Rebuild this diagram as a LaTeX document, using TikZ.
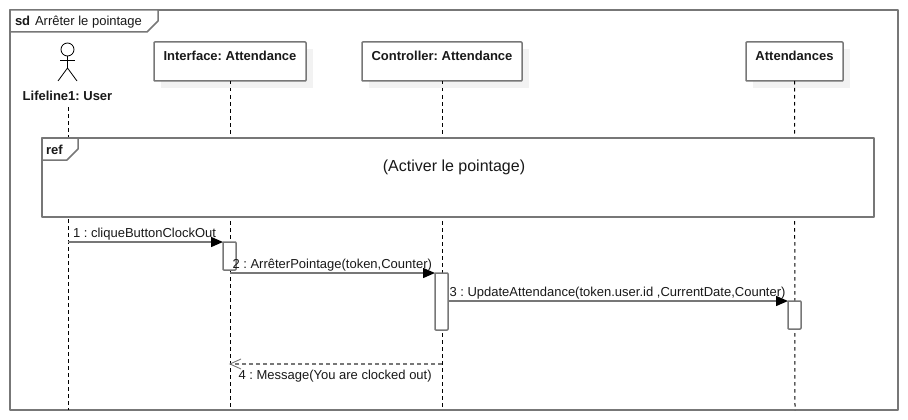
\documentclass[tikz,border=0pt]{standalone}
\usepackage{fontspec}
\setmainfont{Liberation Sans}
\usetikzlibrary{arrows.meta}
\definecolor{lineg}{HTML}{777777}
\definecolor{shade}{HTML}{F2F2F2}
\pgfdeclarearrow{
  name=OpenVee,
  parameters={\the\pgfarrowlength},
  setup code={
    \pgfarrowssettipend{0pt}
    \pgfarrowssetlineend{-0.5pt}
    \pgfarrowssetvisualbackend{-\pgfarrowlength}
    \pgfarrowssetbackend{-\pgfarrowlength}
    \pgfarrowshullpoint{-\pgfarrowlength}{5pt}
    \pgfarrowshullpoint{-\pgfarrowlength}{-5pt}
    \pgfarrowshullpoint{0pt}{0pt}
    \pgfarrowssavethe\pgfarrowlength
  },
  drawing code={
    \pgfsetdash{}{0pt}
    \pgfsetlinewidth{0.9pt}
    \pgfpathmoveto{\pgfqpoint{-\pgfarrowlength}{5pt}}
    \pgfpathlineto{\pgfqpoint{0pt}{0pt}}
    \pgfpathlineto{\pgfqpoint{-\pgfarrowlength}{-5pt}}
    \pgfusepathqstroke
  },
  defaults={length=11pt}
}
\tikzset{
  every node/.style={inner sep=0pt,outer sep=0pt,font=\fontsize{13}{15}\selectfont,text=black!90},
  frameline/.style={draw=lineg,line width=1.5pt,line join=round},
  objbox/.style={frameline,fill=white,rounded corners=0.8pt},
  shadowbox/.style={fill=shade},
  objtitle/.style={font=\fontsize{13}{15}\selectfont\bfseries,anchor=base},
  lifeline/.style={draw=black,line width=1pt,dash pattern=on 3.5pt off 3.5pt},
  actbar/.style={frameline,fill=white,rounded corners=0.8pt,rectangle,draw,minimum width=13pt},
  msg/.style={draw=lineg,line width=1.5pt,-{Triangle[length=12pt,width=10pt,fill=black,color=black]}},
  reply/.style={draw=lineg,line width=1.2pt,dash pattern=on 4pt off 3pt,-{OpenVee[length=11pt]}},
  msglabel/.style={anchor=base west},
  actorline/.style={draw=black,line width=0.8pt}
}
\frenchspacing
\begin{document}
\begin{tikzpicture}[x=1pt,y=-1pt]
\frenchspacing
\useasboundingbox (0,0) rectangle (908,420);
\fill[white] (0,0) rectangle (908,420);
% outer frame
\draw[frameline] (10,10) rectangle (898,410);
% shadows
\fill[shadowbox] (161,49) rectangle (313,88);
\fill[shadowbox] (369,49) rectangle (529,88);
\fill[shadowbox] (753,49) rectangle (850,88);
% lifeline ends
\coordinate (userTop) at (68,107);
\coordinate (userEnd) at (68,410);
\coordinate (ifaceEnd) at (230,410);
\coordinate (ctrlEnd) at (442,410);
\coordinate (attEnd) at (795,410);
% object boxes
\node[objbox,minimum width=152pt,minimum height=39pt,anchor=north west] (iface) at (154,42) {};
\node[objbox,minimum width=160pt,minimum height=39pt,anchor=north west] (ctrl) at (362,42) {};
\node[objbox,minimum width=97pt,minimum height=39pt,anchor=north west] (att) at (746,42) {};
\node[objtitle] (ifaceT) at (230,60) {Interface: Attendance};
\node[objtitle] (ctrlT) at (442,60) {Controller: Attendance};
\node[objtitle] (attT) at (794.5,60) {Attendances};
% lifelines
\draw[lifeline] (userTop) -- (userEnd);
\draw[lifeline] (iface.south) -- (ifaceEnd);
\draw[lifeline] (ctrl.south) -- (ctrlEnd);
\draw[lifeline] (att.south) -- (attEnd);
% actor
\node[circle,draw=black,line width=0.8pt,fill=white,minimum size=13pt] (head) at (67.5,49.5) {};
\coordinate (hip) at (67.5,68);
\coordinate (armL) at (60,60);
\coordinate (armR) at (75,60);
\coordinate (footL) at (58,81);
\coordinate (footR) at (77,81);
\draw[actorline] (head.south) -- (hip);
\draw[actorline] (armL) -- (armR);
\draw[actorline] (footL) -- (hip) -- (footR);
\node[objtitle] (userT) at (67.5,100) {Lifeline1: User};
% sd tab
\draw[frameline,fill=white] (10,10) -- (158,10) -- (158,21) -- (147,32) -- (10,32) -- cycle;
\node[font=\fontsize{13}{15}\selectfont\bfseries,anchor=base west] (sdK) at (15,26) {sd};
\node[anchor=base west] (sdT) at (35,26) {Arrêter le pointage};
% ref frame
\draw[frameline,fill=white] (42,138) rectangle (874,217);
\draw[frameline,fill=white] (42,138) -- (78,138) -- (78,149) -- (67,160) -- (42,160) -- cycle;
\node[font=\fontsize{13}{15}\selectfont\bfseries,anchor=base west] (refK) at (46,154) {ref};
\node[font=\fontsize{16}{18}\selectfont,anchor=base] (refT) at (454,171) {(Activer le pointage)};
% activations
\node[actbar,minimum height=28pt,anchor=north west] (a1) at (223,242) {};
\node[actbar,minimum height=57pt,anchor=north west] (a2) at (435,273) {};
\node[actbar,minimum height=28pt,anchor=north west] (a3) at (788,301) {};
% messages
\coordinate (m1s) at (68,242);
\coordinate (m2s) at (230,273);
\coordinate (m3s) at (448,301);
\coordinate (m4s) at (442,364);
\coordinate (m4e) at (230,364);
\draw[msg] (m1s) -- (a1.north west);
\draw[msg] (m2s) -- (a2.north west);
\draw[msg] (m3s) -- (a3.north west);
\draw[reply] (m4s) -- (m4e);
\node[msglabel] (l1) at (73,237) {1 : cliqueButtonClockOut};
\node[msglabel] (l2) at (232.5,268) {2 : ArrêterPointage(token,Counter)};
\node[msglabel] (l3) at (449.5,296) {3 : UpdateAttendance(token.user.id ,CurrentDate,Counter)};
\node[msglabel] (l4) at (238.5,379) {4 : Message(You are clocked out)};
\end{tikzpicture}
\end{document}
